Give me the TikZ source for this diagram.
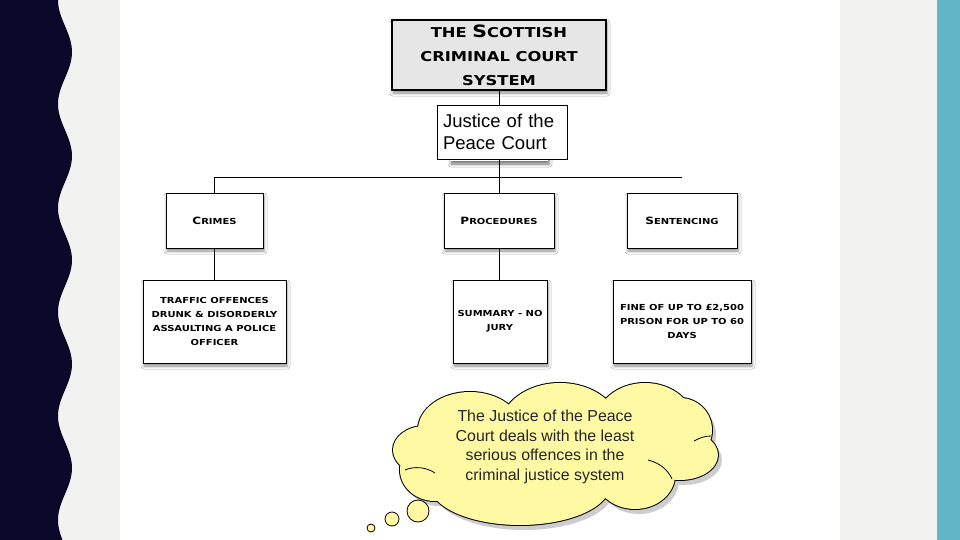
\documentclass[tikz,border=0pt]{standalone}
\usepackage{fontspec}
\setmainfont{Liberation Sans}
\newfontfamily\capsfont[FakeStretch=1.2]{DejaVu Sans}
\usetikzlibrary{shadows.blur}
\definecolor{navy}{HTML}{0A0828}
\definecolor{panelgray}{HTML}{F2F2F0}
\definecolor{stripeteal}{HTML}{62B4C7}
\definecolor{titlegray}{HTML}{E6E6E6}
\definecolor{cloudyellow}{HTML}{FFF9A3}
\definecolor{cloudshadow}{HTML}{CDCDCD}
\newcommand{\bigini}[2]{{\fontsize{10}{14}\selectfont #1}#2}
\newcommand{\lobelist}{470/430/52/38, 560/428/60/45, 645/425/50/42, 680/430/32/32, 680/455/38/25, 635/475/40/34, 520/485/90/40, 435/470/35/31, 425/450/32/24, 555/452/130/50}
\tikzset{
  box/.style={draw=black, line width=0.9pt, fill=white, minimum height=55pt, inner sep=0pt, align=center,
    blur shadow={shadow xshift=1pt, shadow yshift=-3pt, shadow blur radius=3pt, shadow opacity=45}},
  capstext/.style={font=\capsfont\bfseries\fontsize{8.3}{14.3}\selectfont},
  conn/.style={draw=black, line width=0.9pt},
  bubble/.style={draw=black, line width=0.8pt, fill=cloudyellow},
  innerstroke/.style={draw=black, line width=0.8pt},
}
\begin{document}
\begin{tikzpicture}[x=1pt, y=-1pt]
\useasboundingbox (0,0) rectangle (960,540);
% background
\fill[panelgray] (0,0) rectangle (960,540);
\fill[white] (120,0) rectangle (840,540);
\fill[stripeteal] (937,0) rectangle (960,540);
\fill[navy] (0,0) -- plot[domain=0:540, samples=200] ({65+7*cos(3.4615*(\x-52))}, \x) -- (0,540) -- cycle;

% title
\node[box, line width=2.5pt, fill=titlegray, minimum width=214pt, minimum height=70pt,
  font=\capsfont\bfseries\fontsize{13.6}{24}\selectfont] (title) at (499,55)
  {THE {\fontsize{17}{24}\selectfont S}COTTISH\\CRIMINAL COURT\\SYSTEM};

% hidden box behind the Justice of the Peace box (only its shadow shows)
\node[fill=white, minimum width=98pt, minimum height=52pt, inner sep=0pt,
  blur shadow={shadow xshift=1pt, shadow yshift=-3pt, shadow blur radius=3pt, shadow opacity=55}] (jpback) at (499,135) {};
\node[draw=black, line width=0.9pt, fill=white, minimum width=130pt, minimum height=54pt,
  inner xsep=6pt, inner ysep=0pt, text width=118pt, align=left,
  font=\fontsize{18.5}{22}\selectfont] (jp) at (502,132) {Justice of the\\Peace Court};

% second level
\node[box, capstext, minimum width=97pt] (crimes) at (214.5,220.5) {\bigini{C}{RIMES}};
\node[box, capstext, minimum width=110pt] (proc) at (499,220.5) {\bigini{P}{ROCEDURES}};
\node[box, capstext, minimum width=110pt] (sent) at (682,220.5) {\bigini{S}{ENTENCING}};

% third level
\node[box, capstext, minimum width=143pt, minimum height=83pt] (traffic) at (214.5,321.5)
  {TRAFFIC OFFENCES\\DRUNK \& DISORDERLY\\ASSAULTING A POLICE\\OFFICER};
\node[box, capstext, minimum width=94pt, minimum height=83pt] (summary) at (500,321.5)
  {SUMMARY - NO\\JURY};
\node[box, capstext, minimum width=138pt, minimum height=83pt] (fine) at (682,321.5)
  {FINE OF UP TO £2,500\\PRISON FOR UP TO 60\\DAYS};

% connectors
\coordinate (hl) at (215,177);
\coordinate (hr) at (682,177);
\draw[conn] (title.south) -- (title.south |- jp.north);
\draw[conn] (title.south |- jp.south) -- (title.south |- hl);
\draw[conn] (hl) -- (hr);
\draw[conn] (crimes.north |- hl) -- (crimes.north);
\draw[conn] (proc.north |- hl) -- (proc.north);
\draw[conn] (crimes.south) -- (traffic.north);
\draw[conn] (proc.south) -- (proc.south |- summary.north);

% thought cloud
\foreach \cx/\cy/\rx/\ry in \lobelist
  \fill[cloudshadow] (\cx+4,\cy+5) ellipse[x radius=\rx, y radius=\ry];
\foreach \cx/\cy/\rx/\ry in \lobelist
  \draw[line width=2pt] (\cx,\cy) ellipse[x radius=\rx, y radius=\ry];
\foreach \cx/\cy/\rx/\ry in \lobelist
  \fill[cloudyellow] (\cx,\cy) ellipse[x radius=\rx, y radius=\ry];
\draw[innerstroke] (405,470) .. controls (414,466) and (426,467) .. (435,473);
\draw[innerstroke] (648,460) .. controls (660,463) and (668,470) .. (672,479);
\draw[innerstroke] (694,441) .. controls (699,438) and (705,436) .. (711,436);
\node[bubble, circle, minimum size=22pt, inner sep=0pt] (b1) at (418,511) {};
\node[bubble, circle, minimum size=14pt, inner sep=0pt] (b2) at (392,519) {};
\node[bubble, circle, minimum size=8pt, inner sep=0pt] (b3) at (371,528) {};
\node[align=center, text=black!85, font=\fontsize{15.9}{19.5}\selectfont] (thought) at (545,447)
  {The Justice of the Peace\\Court deals with the least\\serious offences in the\\criminal justice system};
\end{tikzpicture}
\end{document}
